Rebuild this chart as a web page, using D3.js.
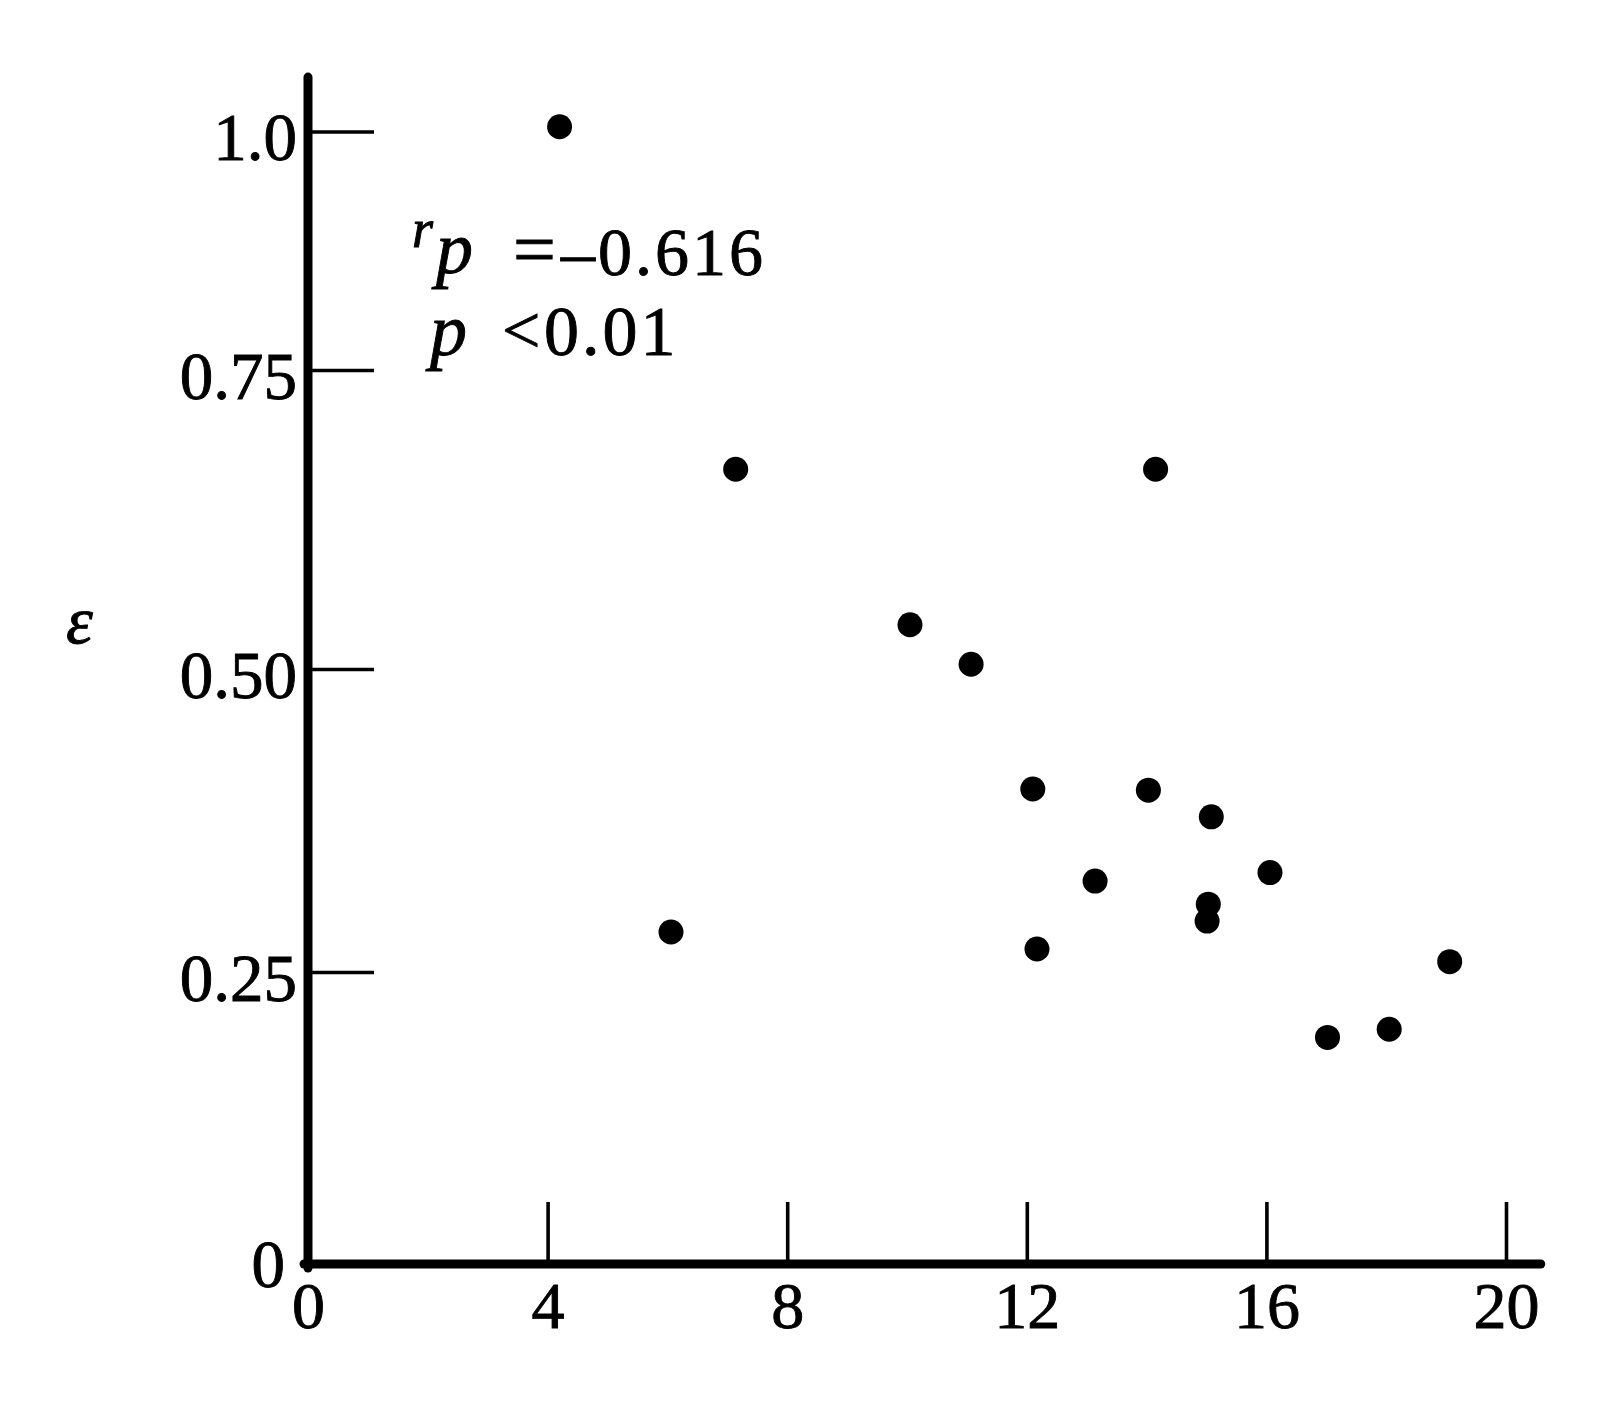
<!DOCTYPE html>
<html>
<head>
<meta charset="utf-8">
<script src="https://cdn.jsdelivr.net/npm/d3@7"></script>
<style>
  html, body { margin: 0; padding: 0; background: #fff; }
  svg text { font-family: "Liberation Serif", "DejaVu Serif", serif; fill: #000; stroke: #000; stroke-width: 0.9px; }
</style>
</head>
<body>
<svg id="chart" width="1611" height="1421"></svg>
<script>
// ---- data ----
const xValues = [4.2, 7.14, 6.06, 10.05, 11.07, 12.1, 12.17, 13.14, 14.03, 14.15, 15.08, 15.03, 15.01, 16.06, 17.02, 18.05, 19.06];
const yValues = [1.005, 0.667, 0.283, 0.537, 0.504, 0.401, 0.269, 0.325, 0.400, 0.667, 0.378, 0.306, 0.292, 0.332, 0.194, 0.201, 0.2585];
const xTicks = [0, 4, 8, 12, 16, 20];
const yTicks = [0, 0.25, 0.5, 0.75, 1.0];
const yTickLabels = ["0", "0.25", "0.50", "0.75", "1.0"];
const yLabel = "ε";

const svg = d3.select("#chart");

// the printed axis is not evenly spaced; tick positions follow the original
const x = d3.scaleLinear().domain([0, 20]).range([308, 1506]);
const y = d3.scaleLinear().domain(yTicks).range([1264, 972, 669, 370, 131.5]);

const xMax = 20.58, yMax = 1.057;

// y ticks + labels
const yAxis = d3.axisLeft(y).tickValues(yTicks)
  .tickFormat((d, i) => yTickLabels[i]).tickSize(-66).tickPadding(11);
const gy = svg.append("g").attr("transform", `translate(${x(0)},0)`).call(yAxis);
gy.select(".domain").remove();
gy.selectAll(".tick line").attr("stroke", "#000").attr("stroke-width", 3.6)
  .filter(d => d === 0).remove();
gy.selectAll(".tick text").attr("font-size", 67).attr("dy", "0.42em")
  .attr("font-family", "Liberation Serif");
gy.selectAll(".tick").filter(d => d === 0).select("text")
  .attr("dx", -12).attr("dy", "0.33em");

// x ticks + labels
const xAxis = d3.axisBottom(x).tickValues(xTicks).tickSize(-62).tickPadding(17);
const gx = svg.append("g").attr("transform", `translate(0,${y(0)})`).call(xAxis);
gx.select(".domain").remove();
gx.selectAll(".tick line").attr("stroke", "#000").attr("stroke-width", 3.6)
  .filter(d => d === 0).remove();
gx.selectAll(".tick text").attr("font-size", 66).attr("font-family", "Liberation Serif");

// heavy axis lines
svg.append("line")
  .attr("x1", x(0)).attr("x2", x(0))
  .attr("y1", y(yMax)).attr("y2", y(0) + 4)
  .attr("stroke", "#000").attr("stroke-width", 9).attr("stroke-linecap", "round");
svg.append("line")
  .attr("x1", x(0) - 4).attr("x2", x(xMax))
  .attr("y1", y(0)).attr("y2", y(0))
  .attr("stroke", "#000").attr("stroke-width", 9).attr("stroke-linecap", "round");

// points
svg.append("g").selectAll("circle")
  .data(xValues.map((v, i) => [v, yValues[i]]))
  .join("circle")
  .attr("cx", d => x(d[0]))
  .attr("cy", d => y(d[1]))
  .attr("r", 12.5)
  .attr("fill", "#000");

// y-axis label
svg.append("text").attr("x", 66).attr("y", 643)
  .attr("font-size", 68).attr("font-style", "italic").text(yLabel);

// statistics annotation
const ann = svg.append("g").attr("font-size", 68);
ann.append("text").attr("x", 412).attr("y", 247).attr("font-size", 54)
  .attr("font-style", "italic").text("r");
ann.append("text").attr("x", 436).attr("y", 273).attr("font-size", 74)
  .attr("font-style", "italic").text("p");
ann.append("text").attr("x", 513).attr("y", 275).attr("font-size", 76).text("=");
ann.append("text").attr("x", 561).attr("y", 275).attr("letter-spacing", 3).text("–0.616");
ann.append("text").attr("x", 430).attr("y", 355).attr("font-size", 74)
  .attr("font-style", "italic").text("p");
ann.append("text").attr("x", 502).attr("y", 353).attr("font-size", 68).text("<");
ann.append("text").attr("x", 544).attr("y", 355).attr("font-size", 70).attr("letter-spacing", 3).text("0.01");
</script>
</body>
</html>
